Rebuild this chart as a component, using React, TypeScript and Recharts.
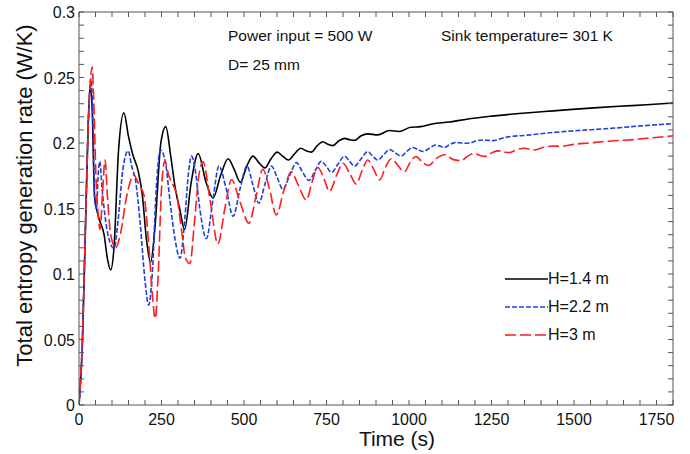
import React from 'react';
import { LineChart, Line, XAxis, YAxis, ReferenceLine } from 'recharts';

// chart frame (px)
const W = 690;
const H = 454;
const MARGIN = { top: 12, right: 17, bottom: 0, left: 0 };
const Y_AXIS_W = 79;
const X_AXIS_H = 49;
const PLOT_LEFT = MARGIN.left + Y_AXIS_W;
const PLOT_RIGHT = W - MARGIN.right;
const PLOT_TOP = MARGIN.top;
const PLOT_BOTTOM = H - MARGIN.bottom - X_AXIS_H;
const TICK_LEN = 5;
const AXIS_COLOR = '#555';
const FONT = '"Liberation Sans", Arial, sans-serif';

// axis ticks
const X_LABELS = [0, 250, 500, 750, 1000, 1250, 1500, 1750];
const X_MINOR = Array.from({ length: 37 }, (_, i) => i * 50);
const Y_LABELS = [0, 0.05, 0.1, 0.15, 0.2, 0.25, 0.3];
const Y_MINOR = Array.from({ length: 31 }, (_, i) => i / 100);

// [time (s), entropy generation rate (W/K)]
const H14: number[][] = [
  [0, 0], [10, 0.045], [20, 0.14], [28, 0.215], [34, 0.244], [40, 0.225], [47, 0.16],
  [60, 0.143], [76, 0.13], [86, 0.112], [96, 0.103], [106, 0.12], [120, 0.195],
  [136, 0.223], [150, 0.205], [162, 0.192], [180, 0.178], [192, 0.16], [205, 0.125],
  [217, 0.109], [230, 0.135], [248, 0.2], [263, 0.2125], [278, 0.19], [292, 0.165],
  [305, 0.15], [320, 0.134], [340, 0.17], [361, 0.192], [385, 0.17], [406, 0.158],
  [430, 0.176], [452, 0.188], [470, 0.18], [489, 0.17], [508, 0.182], [527, 0.19],
  [545, 0.185], [563, 0.181], [582, 0.188], [601, 0.193], [617, 0.19], [635, 0.187],
  [654, 0.192], [672, 0.196], [688, 0.194], [704, 0.193], [722, 0.198], [739, 0.201],
  [754, 0.199], [769, 0.198], [787, 0.2015], [805, 0.2035], [820, 0.2025], [835, 0.202],
  [855, 0.2055], [875, 0.207], [905, 0.2062], [941, 0.2095], [970, 0.2088], [1005, 0.212],
  [1035, 0.2125], [1070, 0.2145], [1122, 0.216], [1183, 0.2185], [1250, 0.2205],
  [1334, 0.2225], [1410, 0.224], [1485, 0.2255], [1560, 0.2268], [1637, 0.228],
  [1720, 0.2292], [1800, 0.2305],
];

const H22: number[][] = [
  [0, 0], [10, 0.045], [20, 0.14], [28, 0.215], [36, 0.249], [42, 0.22], [48, 0.155],
  [53, 0.15], [58, 0.175], [63, 0.186], [70, 0.165], [81, 0.14], [94, 0.124],
  [106, 0.1196], [118, 0.14], [133, 0.18], [149, 0.194], [160, 0.182], [171, 0.172],
  [185, 0.14], [200, 0.095], [211, 0.0763], [222, 0.1], [234, 0.165], [247, 0.1947],
  [262, 0.185], [276, 0.155], [292, 0.125], [306, 0.112], [320, 0.14], [331, 0.175],
  [341, 0.19], [352, 0.18], [366, 0.15], [386, 0.127], [405, 0.155], [424, 0.1824],
  [446, 0.165], [467, 0.144], [488, 0.165], [509, 0.1824], [527, 0.168], [545, 0.154],
  [565, 0.17], [583, 0.1824], [600, 0.174], [618, 0.1646], [638, 0.175], [659, 0.185],
  [677, 0.178], [697, 0.1714], [716, 0.179], [734, 0.186], [750, 0.182], [765, 0.1775],
  [785, 0.184], [805, 0.19], [820, 0.186], [835, 0.1824], [855, 0.188], [875, 0.1935],
  [890, 0.19], [905, 0.187], [923, 0.191], [941, 0.195], [958, 0.1925], [976, 0.19],
  [993, 0.1935], [1011, 0.1966], [1027, 0.195], [1042, 0.1935], [1062, 0.196],
  [1080, 0.1985], [1095, 0.1975], [1107, 0.1966], [1125, 0.199], [1143, 0.2005],
  [1163, 0.1998], [1183, 0.2], [1203, 0.2015], [1223, 0.2023], [1240, 0.202],
  [1253, 0.2018], [1294, 0.2044], [1360, 0.206], [1435, 0.208], [1510, 0.2095],
  [1586, 0.2107], [1690, 0.2128], [1800, 0.2148],
];

const H30: number[][] = [
  [0, 0], [10, 0.05], [20, 0.14], [27, 0.2035], [34, 0.245], [40, 0.258], [45, 0.23],
  [52, 0.17], [58, 0.145], [64, 0.134], [71, 0.16], [79, 0.187], [86, 0.16], [96, 0.13],
  [111, 0.12], [125, 0.13], [145, 0.16], [166, 0.1756], [182, 0.168], [197, 0.16],
  [212, 0.12], [222, 0.085], [231, 0.066], [240, 0.1], [250, 0.165], [260, 0.186],
  [272, 0.175], [285, 0.168], [295, 0.1615], [310, 0.135], [323, 0.112], [336, 0.108],
  [350, 0.14], [363, 0.175], [376, 0.1857], [398, 0.155], [421, 0.123], [442, 0.15],
  [462, 0.172], [488, 0.155], [515, 0.1387], [537, 0.16], [557, 0.18], [577, 0.165],
  [598, 0.145], [620, 0.163], [643, 0.178], [664, 0.168], [689, 0.1565], [706, 0.17],
  [724, 0.1813], [742, 0.173], [759, 0.163], [780, 0.175], [800, 0.1845], [820, 0.177],
  [840, 0.1687], [858, 0.179], [875, 0.187], [893, 0.18], [911, 0.1718], [928, 0.181],
  [946, 0.188], [966, 0.183], [986, 0.178], [1003, 0.185], [1021, 0.1897], [1040, 0.1855],
  [1060, 0.1828], [1082, 0.188], [1108, 0.191], [1132, 0.1875], [1158, 0.1865],
  [1178, 0.19], [1198, 0.192], [1215, 0.1905], [1233, 0.1898], [1254, 0.193],
  [1274, 0.194], [1290, 0.193], [1304, 0.1927], [1327, 0.195], [1349, 0.196],
  [1365, 0.1953], [1379, 0.1947], [1405, 0.1965], [1434, 0.1977], [1460, 0.1975],
  [1506, 0.1992], [1545, 0.2], [1586, 0.201], [1640, 0.202], [1687, 0.2027],
  [1740, 0.204], [1800, 0.2055],
];

const SERIES = [
  { name: 'H=1.4 m', points: H14, color: '#000000', dash: undefined as string | undefined },
  { name: 'H=2.2 m', points: H22, color: '#1f3fe0', dash: '5 2' },
  { name: 'H=3 m', points: H30, color: '#ff1c1c', dash: '11 4' },
];

const toRows = (pts: number[][]) => pts.map(([t, v]) => ({ t, v }));

const XTick = ({ x, payload }: any) => {
  const v = payload.value;
  return (
    <g>
      <line x1={x} x2={x} y1={PLOT_BOTTOM} y2={PLOT_BOTTOM - TICK_LEN} stroke={AXIS_COLOR} />
      <line x1={x} x2={x} y1={PLOT_TOP} y2={PLOT_TOP + TICK_LEN} stroke={AXIS_COLOR} />
      {X_LABELS.includes(v) && (
        <text x={x} y={PLOT_BOTTOM + 20} textAnchor="middle" fontSize={16} fontFamily={FONT} fill="#111">
          {v}
        </text>
      )}
    </g>
  );
};

const YTick = ({ y, payload }: any) => {
  const v = payload.value;
  return (
    <g>
      <line x1={PLOT_LEFT} x2={PLOT_LEFT + TICK_LEN} y1={y} y2={y} stroke={AXIS_COLOR} />
      <line x1={PLOT_RIGHT} x2={PLOT_RIGHT - TICK_LEN} y1={y} y2={y} stroke={AXIS_COLOR} />
      {Y_LABELS.includes(v) && (
        <text x={PLOT_LEFT - 4} y={y + 6} textAnchor="end" fontSize={16} fontFamily={FONT} fill="#111">
          {String(v)}
        </text>
      )}
    </g>
  );
};

const YLabel = () => {
  const cy = (PLOT_TOP + PLOT_BOTTOM) / 2 - 13;
  return (
    <text x={32} y={cy} transform={`rotate(-90 32 ${cy})`} textAnchor="middle" fontSize={22} fontFamily={FONT} fill="#111">
      Total entropy generation rate (W/K)
    </text>
  );
};

const noteStyle: React.CSSProperties = {
  position: 'absolute',
  fontFamily: FONT,
  fontSize: 15.5,
  color: '#111',
  whiteSpace: 'nowrap',
  lineHeight: 'normal',
};

export default function App() {
  return (
    <div style={{ position: 'absolute', left: 0, top: 0, width: W, height: H, background: '#fff' }}>
      <LineChart width={W} height={H} margin={MARGIN}>
        <XAxis
          dataKey="t"
          type="number"
          domain={[0, 1800]}
          allowDataOverflow
          ticks={X_MINOR}
          interval={0}
          tick={<XTick />}
          tickLine={false}
          tickSize={0}
          height={X_AXIS_H}
          axisLine={{ stroke: AXIS_COLOR }}
          label={{ value: 'Time (s)', position: 'insideBottom', offset: 8, dx: 21, style: { fontSize: 21, fontFamily: FONT, fill: '#111' } }}
        />
        <YAxis
          type="number"
          domain={[0, 0.3]}
          allowDataOverflow
          ticks={Y_MINOR}
          interval={0}
          tick={<YTick />}
          tickLine={false}
          tickSize={0}
          width={Y_AXIS_W}
          axisLine={{ stroke: AXIS_COLOR }}
          label={<YLabel />}
        />
        <ReferenceLine y={0.3} stroke={AXIS_COLOR} />
        <ReferenceLine x={1800} stroke={AXIS_COLOR} />
        {SERIES.map((s) => (
          <Line
            key={s.name}
            data={toRows(s.points)}
            dataKey="v"
            name={s.name}
            type="monotone"
            stroke={s.color}
            strokeWidth={1.6}
            strokeDasharray={s.dash}
            dot={false}
            isAnimationActive={false}
          />
        ))}
      </LineChart>

      <div style={{ ...noteStyle, left: 228, top: 27 }}>Power input = 500 W</div>
      <div style={{ ...noteStyle, left: 441, top: 27 }}>Sink temperature= 301 K</div>
      <div style={{ ...noteStyle, left: 228, top: 56 }}>D= 25 mm</div>

      <div style={{ position: 'absolute', left: 505, top: 265 }}>
        {SERIES.map((s) => (
          <div key={s.name} style={{ display: 'flex', alignItems: 'center', height: 28 }}>
            <svg width={43} height={6}>
              <line x1={0} x2={43} y1={3} y2={3} stroke={s.color} strokeWidth={1.6} strokeDasharray={s.dash} />
            </svg>
            <span style={{ fontFamily: FONT, fontSize: 16, color: '#111', whiteSpace: 'nowrap' }}>{s.name}</span>
          </div>
        ))}
      </div>
    </div>
  );
}
